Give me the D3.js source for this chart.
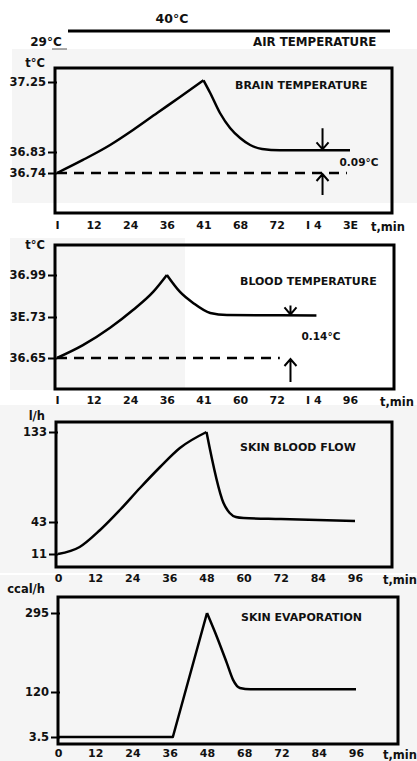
<!DOCTYPE html>
<html>
<head>
<meta charset="utf-8">
<script src="https://cdn.jsdelivr.net/npm/d3@7"></script>
<style>
  body { margin: 0; background: #fff; }
  text { font-family: "DejaVu Sans", "Liberation Sans", Arial, sans-serif; font-weight: bold; fill: #111; }
</style>
</head>
<body>
<div id="chart"></div>
<script>
// time axis, same ticks in every panel
const timeTicks = [0, 12, 24, 36, 48, 60, 72, 84, 96];
const brainTimeLabels = ["I", "12", "24", "36", "41", "68", "72", "I 4", "3E"];
const bloodTimeLabels = ["I", "12", "24", "36", "41", "60", "72", "I 4", "96"];
const flowTimeLabels = ["0", "12", "24", "36", "48", "60", "72", "84", "96"];
const evapTimeLabels = ["0", "12", "24", "36", "48", "68", "72", "84", "96"];

// brain temperature, deg C
const brainTime = [0, 8.5, 17.4, 24.9, 32.8, 40.3, 48, 50.2, 53.4, 56.7, 60, 63.3, 67.2, 73, 96];
const brainTemp = [36.74, 36.796, 36.872, 36.962, 37.064, 37.16, 37.26, 37.184, 37.064, 36.974, 36.914, 36.872, 36.848, 36.84, 36.84];
const brainTicks = [36.74, 36.83, 37.25];
const brainTickLabels = ["36.74", "36.83", "37.25"];

// blood temperature, deg C
const bloodTime = [0, 8.5, 17.4, 24.9, 31.5, 36, 40.3, 44.6, 50.2, 55.7, 85];
const bloodTemp = [36.65, 36.675, 36.709, 36.773, 36.885, 36.99, 36.885, 36.817, 36.755, 36.742, 36.74];
const bloodTicks = [36.65, 36.73, 36.99];
const bloodTickLabels = ["36.65", "3E.73", "36.99"];

// skin blood flow, l/h
const flowTime = [0, 7, 13.6, 20, 26.5, 33, 39.4, 48, 53.5, 55.5, 57.5, 60, 72, 84, 96];
const flowRate = [11, 18, 35, 55, 77, 98, 117, 133, 62, 52, 48, 47, 46, 45, 44];
const flowTicks = [11, 43, 133];

// skin evaporation, kcal/h
const evapTime = [0, 37, 48, 51.2, 54.4, 56.4, 58.6, 62, 96];
const evapRate = [3.5, 3.5, 295, 242, 184, 147, 129, 126, 126];
const evapTicks = [3.5, 120, 295];

const width = 417, height = 761;

const panels = [
  { title: "BRAIN TEMPERATURE", unit: "t\u00b0C", time: brainTime, value: brainTemp,
    ticks: brainTicks, tickLabels: brainTickLabels, timeLabels: brainTimeLabels,
    box: [55, 68, 392, 213], xr: [57, 350], yr: [173, 152, 82], titleX: 235, titleY: 89, unitY: 67,
    labelY: 227, tminX: 388, delta: { t: 87, text: "0.09\u00b0C", down: 22, up: 22, dashEnd: 95, dx: 17, dy: 16 } },
  { title: "BLOOD TEMPERATURE", unit: "t\u00b0C", time: bloodTime, value: bloodTemp,
    ticks: bloodTicks, tickLabels: bloodTickLabels, timeLabels: bloodTimeLabels,
    box: [55, 245, 394, 389], xr: [57, 350], yr: [358, 317, 275], titleX: 240, titleY: 285, unitY: 249,
    labelY: 402, tminX: 397, delta: { t: 76.5, text: "0.14\u00b0C", down: 10, up: 24, dashEnd: 73, dx: 11, dy: 25 } },
  { title: "SKIN BLOOD FLOW", unit: "l/h", time: flowTime, value: flowRate,
    ticks: flowTicks, tickLabels: flowTicks.map(String), timeLabels: flowTimeLabels,
    box: [56, 422, 392, 567], xr: [58, 355], yr: [554, 522, 432], titleX: 240, titleY: 451, unitY: 420,
    labelY: 580, tminX: 400 },
  { title: "SKIN EVAPORATION", unit: "ccal/h", time: evapTime, value: evapRate,
    ticks: evapTicks, tickLabels: evapTicks.map(String), timeLabels: evapTimeLabels,
    box: [58, 597, 398, 744], xr: [58, 356], yr: [737, 692, 613], titleX: 241, titleY: 621, unitY: 593,
    labelY: 755, tminX: 400, linearRise: true }
];

const svg = d3.select("#chart").append("svg")
    .attr("width", width)
    .attr("height", height)
    .attr("viewBox", [0, 0, width, height]);

// faint scan background
svg.append("g").attr("fill", "#f5f5f5")
  .selectAll("rect")
  .data([[12, 49, 405, 154], [10, 238, 175, 152], [0, 405, 417, 168], [0, 575, 417, 186]])
  .join("rect")
    .attr("x", d => d[0]).attr("y", d => d[1])
    .attr("width", d => d[2]).attr("height", d => d[3]);

// air temperature step at the top
svg.append("text").attr("x", 172).attr("y", 23).attr("text-anchor", "middle")
    .attr("font-size", 12.5).text("40\u00b0C");
svg.append("line").attr("x1", 68).attr("x2", 390).attr("y1", 31).attr("y2", 31)
    .attr("stroke", "#000").attr("stroke-width", 3);
svg.append("text").attr("x", 46).attr("y", 46).attr("text-anchor", "middle")
    .attr("font-size", 12).text("29\u00b0C");
svg.append("line").attr("x1", 52).attr("x2", 67).attr("y1", 49).attr("y2", 49)
    .attr("stroke", "#555").attr("stroke-width", 1);
svg.append("text").attr("x", 253).attr("y", 46).attr("font-size", 11.8).text("AIR TEMPERATURE");

panels.forEach(p => {
  const x = d3.scaleLinear().domain([0, 96]).range(p.xr);
  const y = d3.scaleLinear().domain(p.ticks).range(p.yr);
  const g = svg.append("g");
  const [l, t, r, b] = p.box;

  // frame
  g.append("path")
      .attr("d", `M${l},${t}H${r}V${b}H${l}Z`)
      .attr("fill", "none")
      .attr("stroke", "#000")
      .attr("stroke-width", 3);

  // y axis
  const yAxis = g.append("g")
      .attr("transform", `translate(${l + 2},0)`)
      .call(d3.axisLeft(y).tickValues(p.ticks).tickSize(9).tickSizeOuter(0).tickPadding(2)
        .tickFormat((d, i) => p.tickLabels[i]));
  yAxis.select(".domain").remove();
  yAxis.selectAll("line").attr("stroke", "#000").attr("stroke-width", 2);
  yAxis.selectAll("text").attr("font-size", 11.5).attr("font-family", null).attr("fill", "#111");

  // x axis labels
  const xAxis = g.append("g")
      .attr("transform", `translate(0,${p.labelY - 6})`)
      .call(d3.axisBottom(x).tickValues(timeTicks).tickSize(0).tickPadding(0)
        .tickFormat((d, i) => p.timeLabels[i]));
  xAxis.select(".domain").remove();
  xAxis.selectAll("text").attr("font-size", 11).attr("font-family", null).attr("fill", "#111");
  g.append("text").attr("x", p.tminX).attr("y", p.labelY + 4).attr("text-anchor", "middle")
      .attr("font-size", 11.5).attr("font-weight", "normal").text("t,min");

  g.append("text").attr("x", 45).attr("y", p.unitY).attr("text-anchor", "end")
      .attr("font-size", 11.5).attr("font-weight", "normal").text(p.unit);
  g.append("text").attr("x", p.titleX).attr("y", p.titleY).attr("font-size", 11).text(p.title);

  // curve, split at the peak so the peak stays sharp
  const pts = p.time.map((d, i) => [d, p.value[i]]);
  const peak = d3.maxIndex(p.value);
  const line = d3.line().x(d => x(d[0])).y(d => y(d[1]));
  const segs = [
    { data: pts.slice(0, peak + 1), curve: p.linearRise ? d3.curveLinear : d3.curveMonotoneX },
    { data: pts.slice(peak), curve: d3.curveMonotoneX }
  ];
  g.selectAll(".seg").data(segs).join("path")
      .attr("class", "seg")
      .attr("d", s => line.curve(s.curve)(s.data))
      .attr("fill", "none")
      .attr("stroke", "#000")
      .attr("stroke-width", 2.5)
      .attr("stroke-linejoin", "round");

  // baseline and difference arrows
  if (p.delta) {
    const dlt = p.delta;
    const base = p.value[0];
    const plateau = p.value[p.value.length - 1];
    const ax = x(dlt.t);
    g.append("line")
        .attr("x1", x(0)).attr("x2", x(dlt.dashEnd))
        .attr("y1", y(base)).attr("y2", y(base))
        .attr("stroke", "#000").attr("stroke-width", 2.5)
        .attr("stroke-dasharray", "10,7");
    const yp = y(plateau), yb = y(base);
    const arrows = [
      `M${ax},${yp - dlt.down}V${yp - 1}M${ax - 6},${yp - 8}L${ax},${yp - 1}L${ax + 6},${yp - 8}`,
      `M${ax},${yb + dlt.up}V${yb + 1}M${ax - 6},${yb + 8}L${ax},${yb + 1}L${ax + 6},${yb + 8}`
    ];
    g.selectAll(".arrow").data(arrows).join("path")
        .attr("class", "arrow")
        .attr("d", d => d)
        .attr("fill", "none")
        .attr("stroke", "#000")
        .attr("stroke-width", 2);
    g.append("text").attr("x", ax + dlt.dx).attr("y", yp + dlt.dy)
        .attr("font-size", 10.5).text(dlt.text);
  }
});
</script>
</body>
</html>
